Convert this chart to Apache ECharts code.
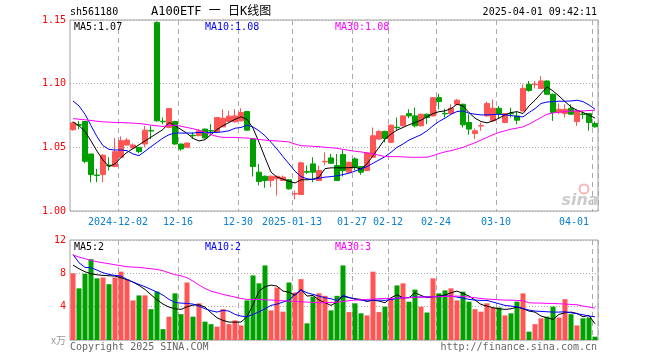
<!DOCTYPE html>
<html>
<head>
<meta charset="utf-8">
<script src="https://cdn.jsdelivr.net/npm/echarts@6/dist/echarts.min.js"></script>
<style>html,body{margin:0;padding:0;background:#fff;}#c{width:660px;height:360px;}</style>
</head>
<body>
<div id="c"></div>
<script>
var dates = [
'2024-11-20','2024-11-21','2024-11-22','2024-11-25','2024-11-26','2024-11-27','2024-11-28','2024-11-29',
'2024-12-02','2024-12-03','2024-12-04','2024-12-05','2024-12-06','2024-12-09','2024-12-10','2024-12-11','2024-12-12','2024-12-13',
'2024-12-16','2024-12-17','2024-12-18','2024-12-19','2024-12-20','2024-12-23','2024-12-24','2024-12-25','2024-12-26','2024-12-27',
'2024-12-30','2024-12-31','2025-01-02','2025-01-03','2025-01-06','2025-01-07','2025-01-08','2025-01-09','2025-01-10',
'2025-01-13','2025-01-14','2025-01-15','2025-01-16','2025-01-17','2025-01-20','2025-01-21','2025-01-22','2025-01-23','2025-01-24',
'2025-01-27','2025-02-05','2025-02-06','2025-02-07','2025-02-10','2025-02-11',
'2025-02-12','2025-02-13','2025-02-14','2025-02-17','2025-02-18','2025-02-19','2025-02-20','2025-02-21',
'2025-02-24','2025-02-25','2025-02-26','2025-02-27','2025-02-28','2025-03-03','2025-03-04','2025-03-05','2025-03-06','2025-03-07',
'2025-03-10','2025-03-11','2025-03-12','2025-03-13','2025-03-14','2025-03-17','2025-03-18','2025-03-19','2025-03-20','2025-03-21',
'2025-03-24','2025-03-25','2025-03-26','2025-03-27','2025-03-28','2025-03-31','2025-04-01'
];
var tickIdx = [8, 18, 28, 37, 47, 53, 61, 71, 87];
var tickLabels = ['2024-12-02', '12-16', '12-30', '2025-01-13', '01-27', '02-12', '02-24', '03-10', '04-01'];

var opens = [1.0638,1.0678,1.0703,1.0448,1.0282,1.0286,1.0360,1.0349,1.0422,1.0518,1.0495,1.0500,1.0526,1.0632,1.1480,1.0705,1.0656,1.0703,1.0526,1.0500,1.0595,1.0591,1.0643,1.0632,1.0625,1.0661,1.0703,1.0700,1.0708,1.0781,1.0565,1.0305,1.0273,1.0240,1.0253,1.0240,1.0245,1.0133,1.0130,1.0309,1.0370,1.0240,1.0386,1.0417,1.0357,1.0443,1.0305,1.0409,1.0349,1.0318,1.0422,1.0565,1.0625,1.0539,1.0658,1.0669,1.0765,1.0747,1.0669,1.0760,1.0747,1.0890,1.0767,1.0765,1.0838,1.0838,1.0695,1.0609,1.0667,1.0747,1.0708,1.0807,1.0695,1.0767,1.0747,1.0786,1.0994,1.0992,1.0963,1.1021,1.0917,1.0773,1.0765,1.0807,1.0703,1.0762,1.0765,1.0687];
var closes = [1.0692,1.0674,1.0390,1.0286,1.0278,1.0438,1.0354,1.0466,1.0552,1.0557,1.0518,1.0466,1.0635,1.0628,1.0708,1.0701,1.0804,1.0526,1.0487,1.0534,1.0591,1.0630,1.0573,1.0628,1.0734,1.0729,1.0745,1.0747,1.0773,1.0635,1.0349,1.0232,1.0240,1.0273,1.0273,1.0266,1.0174,1.0137,1.0378,1.0305,1.0305,1.0318,1.0390,1.0375,1.0240,1.0318,1.0383,1.0344,1.0305,1.0456,1.0591,1.0625,1.0570,1.0674,1.0654,1.0747,1.0747,1.0669,1.0760,1.0734,1.0890,1.0859,1.0763,1.0807,1.0870,1.0677,1.0643,1.0630,1.0671,1.0844,1.0807,1.0765,1.0765,1.0763,1.0713,1.0963,1.0947,1.0996,1.1021,1.0917,1.0773,1.0799,1.0799,1.0760,1.0786,1.0758,1.0695,1.0661];
var lows = [1.0630,1.0643,1.0375,1.0226,1.0226,1.0226,1.0318,1.0344,1.0415,1.0513,1.0490,1.0453,1.0500,1.0565,1.0703,1.0682,1.0650,1.0521,1.0474,1.0497,1.0570,1.0588,1.0570,1.0604,1.0620,1.0658,1.0700,1.0695,1.0703,1.0630,1.0271,1.0201,1.0182,1.0188,1.0122,1.0235,1.0167,1.0091,1.0125,1.0292,1.0226,1.0235,1.0357,1.0370,1.0235,1.0271,1.0300,1.0318,1.0284,1.0313,1.0417,1.0560,1.0539,1.0534,1.0630,1.0664,1.0729,1.0656,1.0664,1.0682,1.0742,1.0799,1.0734,1.0760,1.0833,1.0656,1.0599,1.0565,1.0630,1.0742,1.0703,1.0729,1.0690,1.0734,1.0682,1.0781,1.0937,1.0963,1.0958,1.0912,1.0708,1.0760,1.0734,1.0755,1.0669,1.0721,1.0630,1.0656];
var highs = [1.0703,1.0708,1.0703,1.0448,1.0331,1.0448,1.0422,1.0573,1.0586,1.0573,1.0531,1.0503,1.0669,1.0669,1.1490,1.0734,1.0806,1.0708,1.0526,1.0536,1.0617,1.0643,1.0648,1.0682,1.0740,1.0799,1.0786,1.0799,1.0807,1.0786,1.0573,1.0370,1.0279,1.0279,1.0276,1.0279,1.0250,1.0161,1.0388,1.0357,1.0422,1.0357,1.0461,1.0448,1.0448,1.0479,1.0388,1.0422,1.0352,1.0461,1.0656,1.0635,1.0630,1.0680,1.0734,1.0752,1.0799,1.0812,1.0765,1.0765,1.0895,1.0921,1.0804,1.0838,1.0880,1.0843,1.0760,1.0648,1.0695,1.0859,1.0877,1.0825,1.0770,1.0812,1.0781,1.0994,1.1021,1.1021,1.1060,1.1026,1.0922,1.0844,1.0838,1.0838,1.0799,1.0786,1.0770,1.0703];

var ma5 = [1.0700,1.0670,1.0625,1.0550,1.0470,1.0400,1.0350,1.0370,1.0420,1.0460,1.0490,1.0520,1.0550,1.0580,1.0610,1.0640,1.0695,1.0670,1.0640,1.0610,1.0570,1.0550,1.0560,1.0600,1.0640,1.0670,1.0695,1.0720,1.0740,1.0720,1.0650,1.0540,1.0420,1.0305,1.0266,1.0250,1.0234,1.0220,1.0245,1.0245,1.0250,1.0266,1.0333,1.0339,1.0339,1.0339,1.0340,1.0344,1.0328,1.0370,1.0435,1.0500,1.0565,1.0604,1.0635,1.0656,1.0677,1.0695,1.0713,1.0739,1.0765,1.0780,1.0786,1.0804,1.0838,1.0825,1.0773,1.0729,1.0703,1.0692,1.0708,1.0729,1.0755,1.0773,1.0780,1.0765,1.0825,1.0870,1.0922,1.0974,1.0943,1.0903,1.0859,1.0817,1.0791,1.0773,1.0755,1.0729];
var ma10 = [1.0864,1.0825,1.0760,1.0670,1.0583,1.0513,1.0484,1.0479,1.0479,1.0474,1.0448,1.0435,1.0469,1.0505,1.0539,1.0573,1.0599,1.0612,1.0612,1.0612,1.0612,1.0617,1.0617,1.0617,1.0617,1.0622,1.0630,1.0650,1.0656,1.0674,1.0660,1.0630,1.0591,1.0539,1.0487,1.0427,1.0370,1.0313,1.0270,1.0253,1.0247,1.0258,1.0266,1.0270,1.0276,1.0286,1.0297,1.0313,1.0331,1.0349,1.0375,1.0401,1.0427,1.0461,1.0500,1.0526,1.0557,1.0578,1.0599,1.0630,1.0669,1.0703,1.0729,1.0760,1.0781,1.0786,1.0768,1.0760,1.0755,1.0755,1.0757,1.0760,1.0755,1.0750,1.0742,1.0739,1.0773,1.0804,1.0844,1.0856,1.0859,1.0862,1.0862,1.0864,1.0870,1.0859,1.0833,1.0799];
var ma30 = [1.0726,1.0721,1.0716,1.0711,1.0705,1.0700,1.0698,1.0695,1.0695,1.0692,1.0690,1.0687,1.0682,1.0674,1.0669,1.0664,1.0672,1.0674,1.0666,1.0656,1.0646,1.0635,1.0617,1.0599,1.0586,1.0578,1.0578,1.0578,1.0575,1.0573,1.0568,1.0562,1.0557,1.0552,1.0550,1.0547,1.0542,1.0526,1.0513,1.0511,1.0508,1.0505,1.0500,1.0497,1.0492,1.0484,1.0476,1.0469,1.0464,1.0456,1.0448,1.0438,1.0427,1.0427,1.0427,1.0425,1.0422,1.0422,1.0422,1.0422,1.0435,1.0451,1.0464,1.0474,1.0487,1.0500,1.0518,1.0536,1.0557,1.0578,1.0599,1.0617,1.0630,1.0643,1.0651,1.0661,1.0682,1.0708,1.0734,1.0760,1.0770,1.0776,1.0781,1.0784,1.0786,1.0786,1.0789,1.0791];

var volumes = [8.0,6.2,7.95,9.7,7.4,7.5,6.7,7.5,8.2,7.3,4.75,5.35,5.35,3.7,5.8,1.3,2.8,5.6,3.1,6.9,2.8,4.4,2.2,1.9,1.6,3.7,1.9,2.35,1.75,4.75,7.75,6.8,8.95,3.55,6.3,3.4,6.9,5.7,7.3,2.0,5.2,5.6,5.3,3.55,5.3,8.95,3.35,4.4,3.2,2.95,8.2,3.35,4.0,4.95,6.55,6.8,4.6,6.05,4.0,3.3,7.4,5.6,5.95,6.2,4.75,5.8,4.6,3.7,3.4,4.4,3.9,3.9,2.95,3.2,4.6,5.6,1.0,1.9,2.6,2.8,4.0,2.7,4.9,3.1,1.75,2.6,2.7,0.4];
var vma5 = [8.99,8.55,8.19,7.95,7.83,7.75,7.71,7.67,7.47,7.23,6.95,6.55,6.07,5.43,4.83,4.31,3.95,3.75,3.67,3.99,4.19,4.23,3.95,3.27,2.67,2.35,2.15,2.15,2.15,2.79,4.23,5.87,6.39,6.59,6.47,5.87,5.75,5.35,6.07,5.27,5.35,4.80,4.47,4.15,4.55,5.27,5.07,4.95,4.87,4.63,4.79,4.67,4.47,5.07,5.43,5.07,5.07,5.67,5.35,5.07,5.19,5.27,5.39,5.67,5.87,5.59,5.27,4.79,4.27,4.07,3.87,3.75,3.67,3.75,3.95,3.75,3.47,3.35,2.87,2.67,2.47,3.07,3.27,3.35,3.19,2.79,2.95,1.95];
var vma10 = [10.27,9.27,8.71,8.67,8.39,8.07,7.87,7.75,7.67,7.27,6.95,6.67,6.39,6.07,5.75,5.39,4.87,4.51,4.43,4.39,4.31,4.07,3.75,3.51,3.35,3.55,3.47,3.07,2.87,2.79,3.07,3.39,3.75,4.15,4.31,4.55,4.79,5.47,5.99,5.67,5.47,5.27,5.07,4.95,4.75,5.35,5.11,4.91,4.79,4.67,4.79,4.79,4.75,4.87,4.99,5.07,5.11,5.15,5.15,5.19,5.19,5.23,5.27,5.27,5.15,5.03,4.87,4.79,4.75,4.75,4.55,4.35,4.15,4.07,3.99,3.79,3.59,3.47,3.43,3.39,3.35,3.35,3.39,3.27,3.15,3.03,2.87,2.79];
var vma30 = [10.19,9.95,9.75,9.55,9.39,9.27,9.15,9.03,8.91,8.79,8.75,8.71,8.63,8.55,8.47,8.31,8.07,7.83,7.71,7.47,7.07,6.59,6.19,5.87,5.67,5.47,5.31,5.15,4.99,4.87,4.87,4.87,4.83,4.79,4.75,4.71,4.67,4.63,4.59,4.55,4.51,4.47,4.47,4.51,4.55,4.63,4.71,4.79,4.83,4.87,4.91,4.95,4.99,4.99,5.03,5.07,5.07,5.11,5.15,5.15,5.19,5.19,5.23,5.23,5.27,5.23,5.15,5.07,4.99,4.91,4.87,4.83,4.79,4.79,4.75,4.71,4.47,4.43,4.43,4.39,4.39,4.35,4.31,4.27,4.23,4.07,3.95,3.83];

var UP = '#ff5555', DOWN = '#00a000';
var MONO = '"DejaVu Sans Mono", "Liberation Mono", monospace';

var candles = dates.map(function (d, i) { return [opens[i], closes[i], lows[i], highs[i]]; });
var volData = volumes.map(function (v, i) {
  return { value: v, itemStyle: { color: closes[i] >= opens[i] ? UP : DOWN } };
});
function isTick(i) { return tickIdx.indexOf(i) >= 0; }

var chart = echarts.init(document.getElementById('c'), null, { renderer: 'canvas' });

function txt(x, y, s, color, align, font) {
  return { type: 'text', x: x, y: y, silent: true, z: 100,
    style: { text: s, fill: color, font: font || ('10px ' + MONO), textAlign: align || 'left', textVerticalAlign: 'middle', verticalAlign: 'middle' } };
}

var option = {
  animation: false,
  backgroundColor: '#fff',
  grid: [
    { left: 70, right: 62, top: 20, height: 191, show: true, borderColor: '#a0a0a0', borderWidth: 1, backgroundColor: 'transparent' },
    { left: 70, right: 62, top: 240, height: 100, show: true, borderColor: '#a0a0a0', borderWidth: 1, backgroundColor: 'transparent' }
  ],
  xAxis: [
    { type: 'category', gridIndex: 0, data: dates, boundaryGap: true,
      axisLine: { show: false }, axisTick: { show: false },
      axisLabel: { interval: function (i) { return isTick(i); },
        formatter: function (v, i) { var k = tickIdx.indexOf(i); return k >= 0 ? tickLabels[k] : ''; },
        color: '#0a80d0', fontFamily: MONO, fontSize: 10, margin: 6, padding: [0, 6, 0, 0], alignMaxLabel: 'right' },
      splitLine: { show: true, interval: function (i) { return isTick(i); }, lineStyle: { color: '#aaaaaa', type: [5, 4], width: 1 } } },
    { type: 'category', gridIndex: 1, data: dates, boundaryGap: true,
      axisLine: { show: false }, axisTick: { show: false }, axisLabel: { show: false },
      splitLine: { show: true, interval: function (i) { return isTick(i); }, lineStyle: { color: '#aaaaaa', type: [5, 4], width: 1 } } }
  ],
  yAxis: [
    { type: 'value', gridIndex: 0, min: 1.00, max: 1.15, interval: 0.05, scale: true,
      axisLine: { show: false }, axisTick: { show: false },
      axisLabel: { color: '#ff0000', fontFamily: MONO, fontSize: 10, margin: 4, formatter: function (v) { return v.toFixed(2); } },
      splitLine: { show: true, lineStyle: { color: '#aaaaaa', type: [1, 2], width: 1 } } },
    { type: 'value', gridIndex: 1, min: 0, max: 12, interval: 4,
      axisLine: { show: false }, axisTick: { show: false },
      axisLabel: { color: '#ff0000', fontFamily: MONO, fontSize: 10, margin: 4,
        formatter: function (v) { return v === 0 ? '{u|x万}' : String(v); },
        rich: { u: { color: '#999999', fontSize: 10, fontFamily: '"Noto Sans CJK SC", sans-serif' } } },
      splitLine: { show: true, lineStyle: { color: '#aaaaaa', type: [1, 2], width: 1 } } }
  ],
  series: [
    { type: 'candlestick', xAxisIndex: 0, yAxisIndex: 0, data: candles, barWidth: 5,
      itemStyle: { color: UP, color0: DOWN, borderColor: UP, borderColor0: DOWN, borderWidth: 1 } },
    { type: 'line', xAxisIndex: 0, yAxisIndex: 0, data: ma5, symbol: 'none', lineStyle: { color: '#000000', width: 1 } },
    { type: 'line', xAxisIndex: 0, yAxisIndex: 0, data: ma10, symbol: 'none', lineStyle: { color: '#0000ff', width: 1 } },
    { type: 'line', xAxisIndex: 0, yAxisIndex: 0, data: ma30, symbol: 'none', lineStyle: { color: '#ff00ff', width: 1 } },
    { type: 'bar', xAxisIndex: 1, yAxisIndex: 1, data: volData, barWidth: 5 },
    { type: 'line', xAxisIndex: 1, yAxisIndex: 1, data: vma5, symbol: 'none', lineStyle: { color: '#000000', width: 1 } },
    { type: 'line', xAxisIndex: 1, yAxisIndex: 1, data: vma10, symbol: 'none', lineStyle: { color: '#0000ff', width: 1 } },
    { type: 'line', xAxisIndex: 1, yAxisIndex: 1, data: vma30, symbol: 'none', lineStyle: { color: '#ff00ff', width: 1 } }
  ],
  graphic: [
    txt(70, 12, 'sh561180', '#000'),
    txt(151, 12, 'A100ETF 一 日K线图', '#000', 'left', '12px ' + MONO + ', "Noto Sans CJK SC"'),
    txt(597, 12, '2025-04-01 09:42:11', '#000', 'right'),
    txt(74, 27, 'MA5:1.07', '#000000'),
    txt(205, 27, 'MA10:1.08', '#0000ff'),
    txt(335, 27, 'MA30:1.08', '#ff00ff'),
    txt(74, 247, 'MA5:2', '#000000'),
    txt(205, 247, 'MA10:2', '#0000ff'),
    txt(335, 247, 'MA30:3', '#ff00ff'),
    txt(70, 347, 'Copyright 2025 SINA.COM', '#666666'),
    txt(597, 347, 'http://finance.sina.com.cn', '#666666', 'right'),
    { type: 'circle', shape: { cx: 584, cy: 189, r: 4.5 }, style: { fill: 'none', stroke: '#f6b8b8', lineWidth: 2 }, silent: true, z: 1 },
    { type: 'text', x: 580, y: 201, silent: true, z: 1,
      style: { text: 'sina', fill: '#cccccc', font: 'italic bold 16px "DejaVu Sans", sans-serif', textAlign: 'center', textVerticalAlign: 'middle', verticalAlign: 'middle' } }
  ]
};
chart.setOption(option);
</script>
</body>
</html>
